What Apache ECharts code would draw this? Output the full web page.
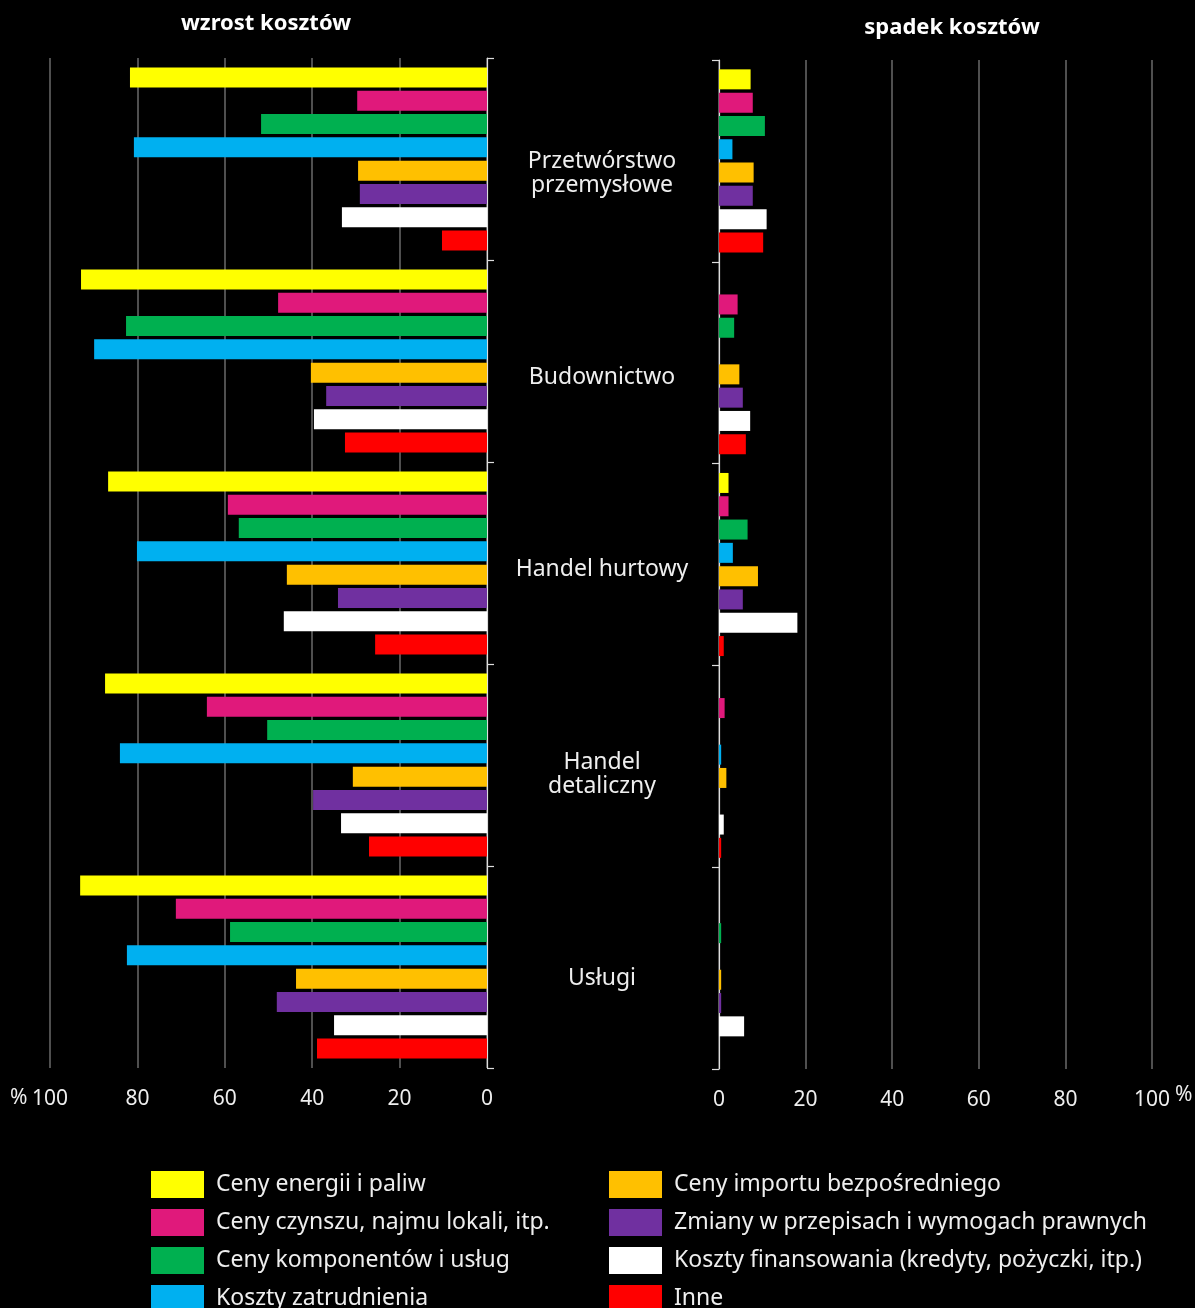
<!DOCTYPE html>
<html>
<head>
<meta charset="utf-8">
<script src="https://cdn.jsdelivr.net/npm/echarts@6/dist/echarts.min.js"></script>
<style>
html,body{margin:0;padding:0;background:#000;}
#chart{width:1195px;height:1308px;}
</style>
</head>
<body>
<div id="chart"></div>
<script>
const categories = ['Przetwórstwo\nprzemysłowe', 'Budownictwo', 'Handel hurtowy', 'Handel\ndetaliczny', 'Usługi'];
const seriesNames = [
  'Ceny energii i paliw',
  'Ceny czynszu, najmu lokali, itp.',
  'Ceny komponentów i usług',
  'Koszty zatrudnienia',
  'Ceny importu bezpośredniego',
  'Zmiany w przepisach i wymogach prawnych',
  'Koszty finansowania (kredyty, pożyczki, itp.)',
  'Inne'
];
const seriesColors = ['#ffff00', '#e0197b', '#00b050', '#00b0f0', '#ffc000', '#7030a0', '#ffffff', '#ff0000'];

// wzrost kosztów (%)
const incEnergy     = [81.7, 92.9, 86.7, 87.4, 93.1];
const incRent       = [29.7, 47.8, 59.3, 64.1, 71.2];
const incComponents = [51.7, 82.6, 56.8, 50.3, 58.8];
const incLabour     = [80.8, 89.9, 80.1, 84.0, 82.4];
const incImports    = [29.5, 40.3, 45.8, 30.7, 43.7];
const incRegulation = [29.1, 36.8, 34.1, 39.8, 48.1];
const incFinancing  = [33.2, 39.6, 46.5, 33.4, 35.0];
const incOther      = [10.3, 32.5, 25.6, 27.0, 38.9];

// spadek kosztów (%)
const decEnergy     = [7.3, 0, 2.2, 0, 0];
const decRent       = [7.8, 4.3, 2.2, 1.3, 0];
const decComponents = [10.6, 3.5, 6.6, 0, 0.5];
const decLabour     = [3.1, 0, 3.2, 0.5, 0];
const decImports    = [8.0, 4.7, 9.0, 1.7, 0.5];
const decRegulation = [7.8, 5.5, 5.5, 0, 0.5];
const decFinancing  = [11.0, 7.2, 18.1, 1.1, 5.8];
const decOther      = [10.2, 6.2, 1.1, 0.5, 0];

const xTicks = [0, 20, 40, 60, 80, 100];

const incData = [incEnergy, incRent, incComponents, incLabour, incImports, incRegulation, incFinancing, incOther];
const decData = [decEnergy, decRent, decComponents, decLabour, decImports, decRegulation, decFinancing, decOther];

// style: downward shift (px) of each category label
const labelShift = [14, 16, 6, 9, 11];

const FONT = 'Noto Sans';
const chart = echarts.init(document.getElementById('chart'), null, {renderer: 'canvas'});

const series = [];
incData.forEach((d, i) => {
  series.push({
    name: seriesNames[i], type: 'bar', xAxisIndex: 0, yAxisIndex: 0,
    data: d, barWidth: 20, barGap: '16.5%',
    itemStyle: {color: seriesColors[i]}, emphasis: {disabled: true}
  });
});
decData.forEach((d, i) => {
  series.push({
    name: seriesNames[i], type: 'bar', xAxisIndex: 1, yAxisIndex: 1,
    data: d, barWidth: 20, barGap: '16.5%',
    itemStyle: {color: seriesColors[i]}, emphasis: {disabled: true}
  });
});

const xAxisCommon = {
  type: 'value', min: 0, max: 100, interval: 20,
  axisLine: {show: false}, axisTick: {show: false},
  splitLine: {show: true, lineStyle: {color: '#6a6a6a', width: 1.5}},
  axisLabel: {color: '#eeeeee', fontSize: 21, fontFamily: FONT, margin: 21,
    formatter: v => xTicks.indexOf(v) >= 0 ? String(v) : ''}
};

const spacerRich = {};
labelShift.forEach((s, i) => { spacerRich['s' + i] = {height: 2 * s, lineHeight: 2 * s, fontSize: 1}; });

const legendCommon = {
  orient: 'vertical', top: 1171, height: 300, padding: 0,
  itemWidth: 53, itemHeight: 27, itemGap: 11, icon: 'rect',
  textStyle: {color: '#eeeeee', fontSize: 23, fontFamily: FONT, padding: [0, 0, 0, 7]},
  selectedMode: false
};

const option = {
  backgroundColor: '#000000',
  animation: false,
  textStyle: {fontFamily: FONT},
  title: [
    {text: 'wzrost kosztów', left: 261, top: 8, textAlign: 'center',
     textStyle: {color: '#ffffff', fontSize: 22, fontWeight: 'bold', fontFamily: FONT}},
    {text: 'spadek kosztów', left: 947, top: 12, textAlign: 'center',
     textStyle: {color: '#ffffff', fontSize: 22, fontWeight: 'bold', fontFamily: FONT}}
  ],
  legend: [
    Object.assign({}, legendCommon, {data: seriesNames.slice(0, 4), left: 151}),
    Object.assign({}, legendCommon, {data: seriesNames.slice(4), left: 609})
  ],
  grid: [
    {left: 50, right: 708, top: 58, bottom: 240},
    {left: 719, right: 43, top: 60, bottom: 239}
  ],
  xAxis: [
    Object.assign({}, xAxisCommon, {gridIndex: 0, inverse: true}),
    Object.assign({}, xAxisCommon, {gridIndex: 1})
  ],
  yAxis: [
    {type: 'category', gridIndex: 0, data: categories, inverse: true, position: 'right',
     axisLine: {show: true, lineStyle: {color: '#dddddd', width: 1.2}},
     axisTick: {show: true, length: 7, lineStyle: {color: '#dddddd', width: 1.2}},
     axisLabel: {show: true, color: '#eeeeee', fontSize: 23, lineHeight: 24, fontFamily: FONT,
       margin: 115, align: 'center', verticalAlign: 'middle',
       formatter: (v, idx) => '{s' + idx + '|}\n' + v,
       rich: spacerRich},
     splitLine: {show: false}},
    {type: 'category', gridIndex: 1, data: categories, inverse: true, position: 'left',
     axisLine: {show: true, lineStyle: {color: '#dddddd', width: 1.2}},
     axisTick: {show: true, length: 7, lineStyle: {color: '#dddddd', width: 1.2}},
     axisLabel: {show: false},
     splitLine: {show: false}}
  ],
  graphic: [
    {type: 'text', left: 10, top: 1088, style: {text: '%', fill: '#eeeeee', font: '21px "Noto Sans"'}},
    {type: 'text', left: 1175, top: 1085, style: {text: '%', fill: '#eeeeee', font: '21px "Noto Sans"'}}
  ],
  series: series
};
chart.setOption(option);
</script>
</body>
</html>
